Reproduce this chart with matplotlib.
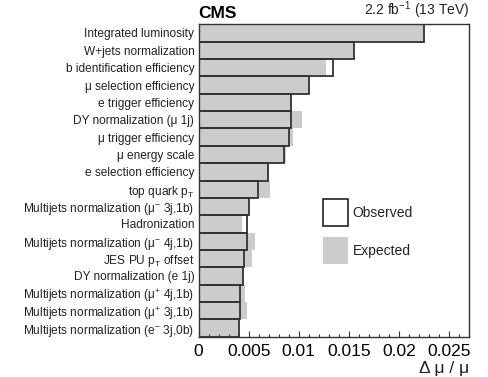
import matplotlib
matplotlib.use("Agg")
import matplotlib.pyplot as plt
from matplotlib.patches import Rectangle
from matplotlib.ticker import MultipleLocator, FixedLocator

plt.rcParams['font.family'] = ['Liberation Sans', 'DejaVu Sans']
plt.rcParams['mathtext.fontset'] = 'custom'
plt.rcParams['mathtext.rm'] = 'Liberation Sans'
plt.rcParams['mathtext.it'] = 'Liberation Sans:italic'
plt.rcParams['mathtext.bf'] = 'Liberation Sans:bold'

labels = [
    "Integrated luminosity",
    "W+jets normalization",
    "b identification efficiency",
    "μ selection efficiency",
    "e trigger efficiency",
    "DY normalization (μ 1j)",
    "μ trigger efficiency",
    "μ energy scale",
    "e selection efficiency",
    r"top quark p$_{\mathrm{T}}$",
    r"Multijets normalization (μ$^{-}$ 3j,1b)",
    "Hadronization",
    r"Multijets normalization (μ$^{-}$ 4j,1b)",
    r"JES PU p$_{\mathrm{T}}$ offset",
    "DY normalization (e 1j)",
    r"Multijets normalization (μ$^{+}$ 4j,1b)",
    r"Multijets normalization (μ$^{+}$ 3j,1b)",
    r"Multijets normalization (e$^{-}$ 3j,0b)",
]
observed = [0.02244, 0.01555, 0.01340, 0.01106, 0.00923, 0.00920, 0.00900, 0.00850,
            0.00697, 0.00597, 0.00507, 0.00487, 0.00480, 0.00457, 0.00447, 0.00417,
            0.00417, 0.00404]
expected = [0.02244, 0.01555, 0.01273, 0.01110, 0.00930, 0.01030, 0.00940, 0.00873,
            0.00700, 0.00710, 0.00500, 0.00437, 0.00564, 0.00534, 0.00450, 0.00464,
            0.00480, 0.00400]
legend_labels = ["Observed", "Expected"]

W, H = 489, 377
fig = plt.figure(figsize=(W/100, H/100), dpi=100)
ax = fig.add_axes([198.5/W, 1-336.7/H, (469.3-198.5)/W, (336.7-24.3)/H])

ypos = list(range(len(labels)))
ax.barh(ypos, expected, height=1.0, color='#cccccc', edgecolor='none', zorder=1)
ax.barh(ypos, observed, height=1.0, fill=False, edgecolor='#333333', linewidth=1.3, zorder=2)

ax.set_ylim(len(labels)-0.5, -0.5)
ax.set_xlim(0, 0.027)
ax.set_yticks(ypos)
ax.set_yticklabels(labels, fontsize=8.6, color='#222222')
ax.tick_params(axis='y', length=0, pad=3)
ax.xaxis.set_major_locator(FixedLocator([0, 0.005, 0.01, 0.015, 0.02, 0.025]))
ax.set_xticklabels(['0', '0.005', '0.01', '0.015', '0.02', '0.025'])
ax.xaxis.set_minor_locator(MultipleLocator(0.001))
ax.tick_params(axis='x', which='major', direction='in', length=4, width=0.8, labelsize=12.5, pad=5, color='#333333')
ax.tick_params(axis='x', which='minor', direction='in', length=2, width=0.8, color='#333333')
for s in ax.spines.values():
    s.set_color('#333333')
    s.set_linewidth(1.0)

ax.text(0.0, 1.012, "CMS", transform=ax.transAxes, fontsize=12.5, fontweight='bold',
        ha='left', va='bottom')
ax.text(1.0, 1.012, r"2.2 fb$^{-1}$ (13 TeV)", transform=ax.transAxes, fontsize=10,
        ha='right', va='bottom', color='#222222')
fig.text(469/W, 1-373/H, "Δ μ / μ", fontsize=12.5, ha='right', va='baseline', color='#222222')

# legend drawn by hand
def fx(px):
    return px / W
def fy(py):
    return 1 - py / H

fig.patches.append(Rectangle((fx(322.7), fy(226)), fx(347.7)-fx(322.7), fy(199.3)-fy(226),
                             transform=fig.transFigure, facecolor='white',
                             edgecolor='#222222', linewidth=1.2))
fig.patches.append(Rectangle((fx(322.7), fy(264)), fx(347.7)-fx(322.7), fy(237.3)-fy(264),
                             transform=fig.transFigure, facecolor='#cccccc',
                             edgecolor='none'))
fig.text(fx(352.5), fy(213), legend_labels[0], fontsize=10, ha='left', va='center', color='#222222')
fig.text(fx(352.5), fy(251), legend_labels[1], fontsize=10, ha='left', va='center', color='#222222')

fig.savefig("out.png", dpi=100)
